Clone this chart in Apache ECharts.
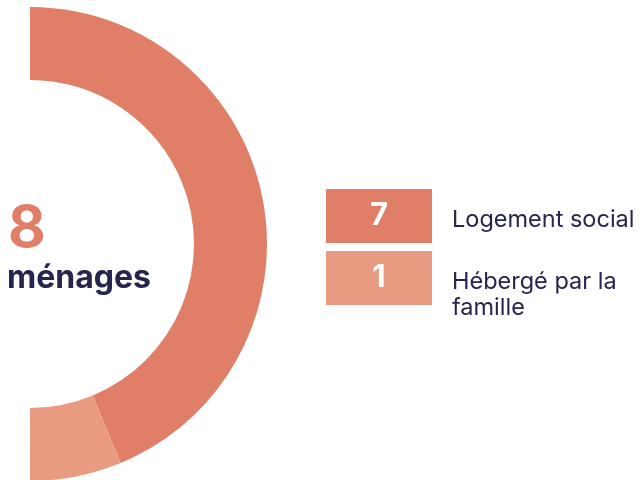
<!DOCTYPE html>
<html>
<head>
<meta charset="utf-8">
<script src="https://cdn.jsdelivr.net/npm/echarts@6/dist/echarts.min.js"></script>
<style>
  html, body { margin: 0; padding: 0; background: #fff; }
  #main { width: 644px; height: 480px; }
</style>
</head>
<body>
<div id="main"></div>
<script>
  // données
  var categories = ['Logement social', 'Hébergé par la\nfamille'];
  var values = [7, 1];
  var colors = ['#E07E67', '#E99B82'];
  var totalLabel = 'ménages';

  var total = values.reduce(function (a, b) { return a + b; }, 0);
  var dark = '#25254D';
  var font = 'Inter';

  var chart = echarts.init(document.getElementById('main'));

  // légende à droite (cases + libellés)
  var legend = [];
  for (var i = 0; i < categories.length; i++) {
    var boxY = 189 + i * 62;
    legend.push({
      type: 'rect',
      shape: { x: 326, y: boxY, width: 106, height: 54 },
      style: { fill: colors[i] }
    });
    legend.push({
      type: 'text',
      x: 379, y: boxY + 27,
      style: {
        text: String(values[i]), fill: '#fff', font: 'bold 31px ' + font,
        align: 'center', verticalAlign: 'middle'
      }
    });
    legend.push({
      type: 'text',
      x: 452, y: boxY + 18,
      style: {
        text: categories[i], fill: dark, font: '23.5px ' + font,
        lineHeight: 26, align: 'left', verticalAlign: 'top'
      }
    });
  }

  var option = {
    animation: false,
    series: [{
      type: 'pie',
      silent: true,
      center: [30, 244],
      radius: [164, 237],
      startAngle: 90,
      endAngle: -90,
      clockwise: true,
      label: { show: false },
      labelLine: { show: false },
      itemStyle: { borderWidth: 0 },
      data: values.map(function (v, i) {
        return { value: v, name: categories[i], itemStyle: { color: colors[i] } };
      })
    }],
    graphic: [
      {
        type: 'text', x: 8, y: 230,
        style: {
          text: String(total), fill: colors[0], font: 'bold 58px ' + font,
          align: 'left', verticalAlign: 'middle'
        }
      },
      {
        type: 'text', x: 7, y: 278,
        style: {
          text: totalLabel, fill: dark, font: 'bold 32px ' + font,
          align: 'left', verticalAlign: 'middle'
        }
      }
    ].concat(legend)
  };

  chart.setOption(option);
</script>
</body>
</html>
